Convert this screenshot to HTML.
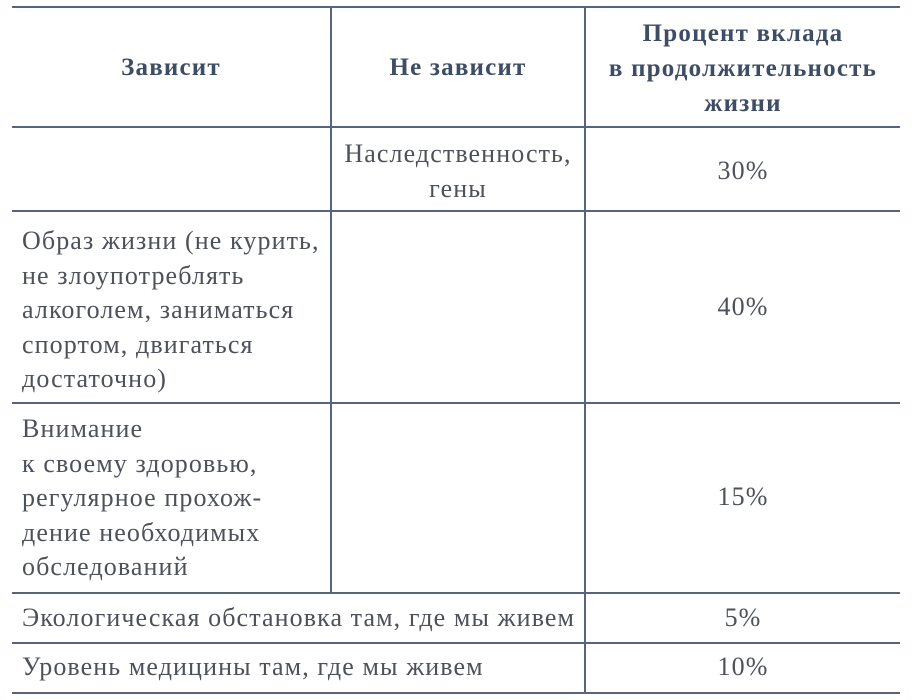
<!DOCTYPE html>
<html><head><meta charset="utf-8"><style>
body{margin:0;width:919px;height:700px;background:#fff;position:relative;overflow:hidden;font-family:"Liberation Serif","DejaVu Serif",serif;}
.h{position:absolute;height:2px;background:#56657e;}
.v{position:absolute;width:2px;background:#56657e;}
.t{position:absolute;color:#4d5159;font-size:26px;letter-spacing:1.1px;line-height:34.5px;white-space:nowrap;}
.b{position:absolute;color:#3e4d66;font-size:25px;letter-spacing:1.2px;font-weight:bold;line-height:35px;text-align:center;white-space:nowrap;}
.c{text-align:center;}
</style></head><body>
<div class="h" style="left:12px;width:888px;top:6px"></div>
<div class="h" style="left:12px;width:888px;top:126px"></div>
<div class="h" style="left:12px;width:888px;top:210px"></div>
<div class="h" style="left:12px;width:888px;top:402px"></div>
<div class="h" style="left:12px;width:888px;top:592px"></div>
<div class="h" style="left:12px;width:888px;top:642px"></div>
<div class="h" style="left:12px;width:888px;top:692px"></div>
<div class="v" style="left:330px;top:6px;height:588px"></div>
<div class="v" style="left:584px;top:6px;height:688px"></div>

<div class="b" style="left:12px;width:318px;top:50px">Зависит</div>
<div class="b" style="left:332px;width:252px;top:50px">Не зависит</div>
<div class="b" style="left:586px;width:314px;top:16px">Процент вклада<br>в продолжительность<br>жизни</div>

<div class="t c" style="left:332px;width:252px;top:137px">Наследственность,<br>гены</div>
<div class="t c" style="left:586px;width:314px;top:154px">30%</div>

<div class="t" style="left:22px;top:224px">Образ жизни (не курить,<br>не злоупотреблять<br>алкоголем, заниматься<br>спортом, двигаться<br>достаточно)</div>
<div class="t c" style="left:586px;width:314px;top:290px">40%</div>

<div class="t" style="left:22px;top:412px">Внимание<br>к своему здоровью,<br>регулярное прохож-<br>дение необходимых<br>обследований</div>
<div class="t c" style="left:586px;width:314px;top:480px">15%</div>

<div class="t" style="left:22px;top:601px">Экологическая обстановка там, где мы живем</div>
<div class="t c" style="left:586px;width:314px;top:601px">5%</div>

<div class="t" style="left:22px;top:650px">Уровень медицины там, где мы живем</div>
<div class="t c" style="left:586px;width:314px;top:650px">10%</div>
</body></html>
